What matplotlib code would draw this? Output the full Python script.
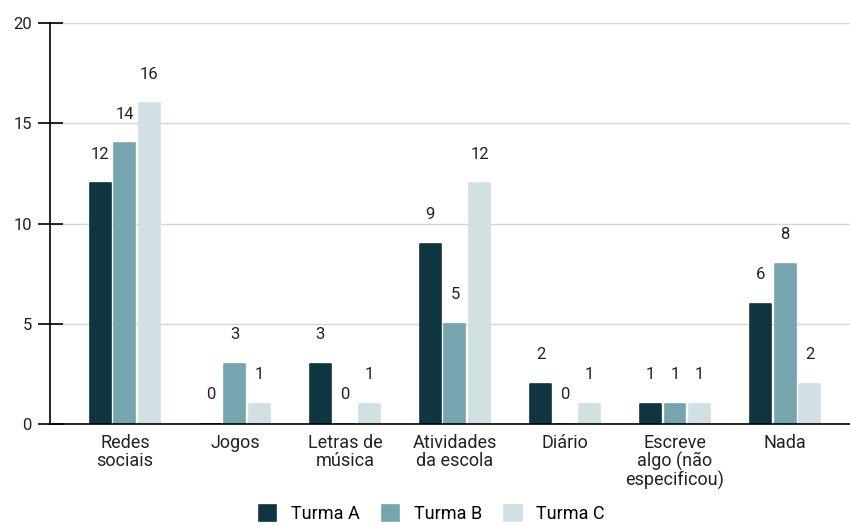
import numpy as np
import matplotlib.pyplot as plt

plt.rcParams['font.family'] = ['Roboto', 'DejaVu Sans']

categorias = ['Redes\nsociais', 'Jogos', 'Letras de\nmúsica', 'Atividades\nda escola',
              'Diário', 'Escreve\nalgo (não\nespecificou)', 'Nada']
turma_a = [12, 0, 3, 9, 2, 1, 6]
turma_b = [14, 3, 0, 5, 0, 1, 8]
turma_c = [16, 1, 1, 12, 1, 1, 2]
series = ['Turma A', 'Turma B', 'Turma C']
cores = ['#0f3640', '#76a5b0', '#d0e0e3']

fig = plt.figure(figsize=(8.5, 5.25), dpi=100)
ax = fig.add_axes([50/850, 1 - 424/525, 800/850, 401/525])

x = np.arange(len(categorias))
largura = 0.19
passo = 0.223

for i, (nome, valores, cor) in enumerate(zip(series, [turma_a, turma_b, turma_c], cores)):
    pos = x + (i - 1) * passo
    ax.bar(pos, valores, width=largura, color=cor, label=nome, zorder=3,
           edgecolor=cor, linewidth=1.2, joinstyle='round')
    for px, v in zip(pos, valores):
        ax.annotate(str(v), (px, v), xytext=(0, 21), textcoords='offset points',
                    ha='center', va='center', fontsize=12, color='#222222')

ax.set_ylim(0, 20)
ax.set_xlim(-0.68, 6.59)
ax.set_yticks([0, 5, 10, 15, 20])
ax.set_xticks(x)
ax.set_xticklabels(categorias, fontsize=13, color='#222222', linespacing=1.0)
ax.tick_params(axis='x', length=0, pad=7)
ax.tick_params(axis='y', direction='inout', length=18, width=1.2, labelsize=12,
               labelcolor='#222222', pad=4)
ax.grid(axis='y', color='#d6d6d6', linewidth=1, zorder=0)

for lado in ['top', 'right']:
    ax.spines[lado].set_visible(False)
ax.spines['left'].set_linewidth(1.2)
ax.spines['bottom'].set_linewidth(1.2)
ax.spines['bottom'].set_zorder(4)

fig.legend(loc='lower center', bbox_to_anchor=(0.508, -0.028), ncol=3, frameon=False,
           fontsize=13, handlelength=0.95, handleheight=0.95, columnspacing=1.25,
           handletextpad=0.8)

fig.savefig('out.png', dpi=100)
